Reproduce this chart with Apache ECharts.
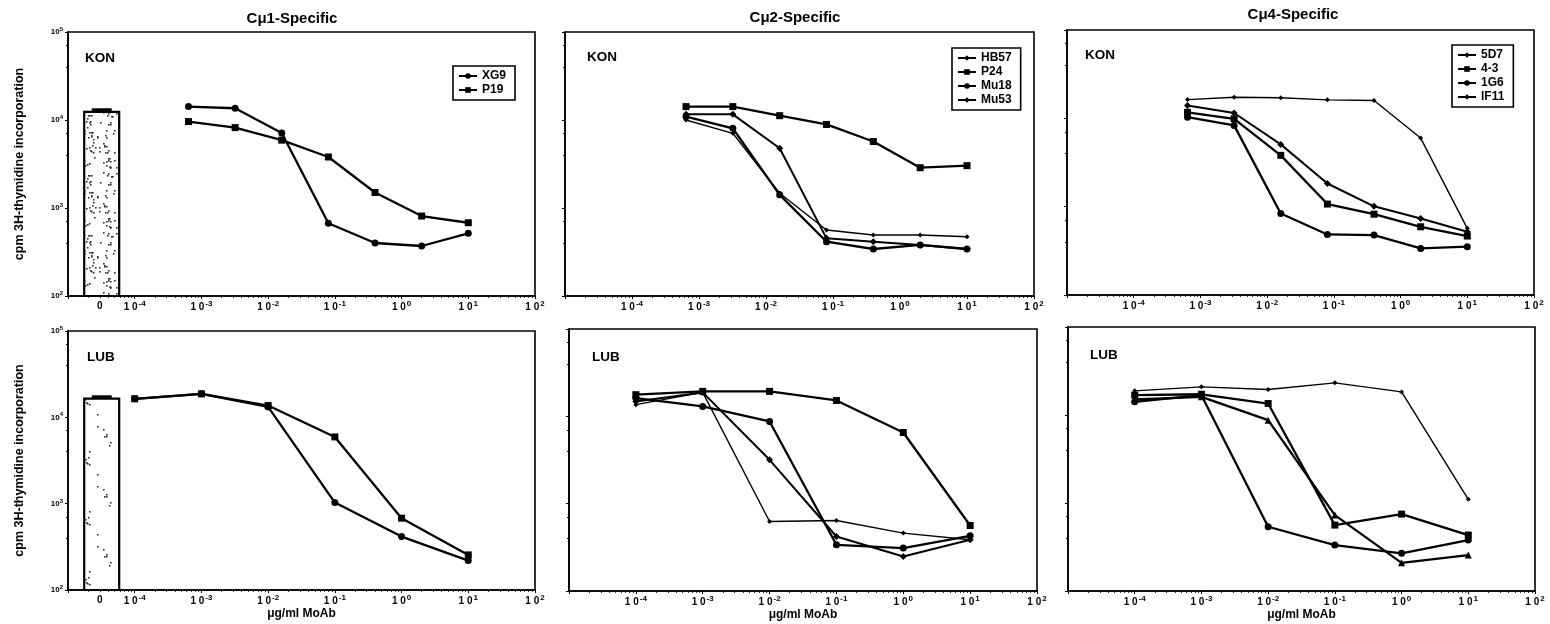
<!DOCTYPE html>
<html><head><meta charset="utf-8">
<script src="https://cdn.jsdelivr.net/npm/echarts@6.0.0/dist/echarts.min.js"></script>
<style>html,body{margin:0;padding:0;background:#fff}#c{width:1550px;height:624px}</style>
</head><body><div id="c"></div>
<script>
// ---------------- data ----------------
const panelTitles = ['Cμ1-Specific', 'Cμ2-Specific', 'Cμ4-Specific'];
const cellLines = ['KON', 'LUB'];
const doseKON = [0.00064, 0.0032, 0.016, 0.08, 0.4, 2, 10];
const doseLUB = [0.0001, 0.001, 0.01, 0.1, 1, 10];
const controlLabel = '0';
const controlDose = 3.2e-5;          // where the "0" (no antibody) bar sits
const konControl = [12400, 13600];   // [mean, mean+error]
const lubControl = [16500, 18000];

// Cμ1 panel
const kon_XG9 = [14200, 13600, 7100, 670, 400, 370, 515];
const kon_P19 = [9600, 8200, 5900, 3800, 1500, 810, 680];
const lub_XG9 = [16400, 18700, 13200, 1030, 416, 219];
const lub_P19 = [16400, 18700, 13700, 5930, 679, 255];
// Cμ2 panel
const kon_HB57 = [11600, 11600, 4770, 452, 414, 380, 342];
const kon_P24  = [14200, 14200, 11200, 8900, 5700, 2870, 3030];
const kon_Mu18 = [10900, 8050, 1410, 414, 342, 380, 342];
const kon_Mu53 = [10000, 7060, 1470, 562, 493, 493, 472];
const lub_HB57 = [14800, 18800, 3180, 421, 248, 386];
const lub_P24  = [17700, 19300, 19300, 15200, 6530, 562];
const lub_Mu18 = [16200, 13000, 8740, 338, 310, 429];
const lub_Mu53 = [13600, 18800, 625, 641, 460, 386];
// Cμ4 panel
const kon_5D7  = [14000, 11500, 5070, 1830, 1010, 736, 520];
const kon_4_3  = [11700, 9880, 3810, 1070, 822, 592, 465];
const kon_1G6  = [10300, 8320, 837, 485, 477, 337, 352];
const kon_IF11 = [16300, 17300, 17100, 16200, 15900, 5980, 568];
const lub_5D7  = [16800, 17200, 13500, 561, 748, 432];
const lub_4_3  = [15000, 16100, 8730, 729, 209, 256];
const lub_1G6  = [14100, 16800, 537, 333, 268, 379];
const lub_IF11 = [18800, 20900, 19500, 23200, 18300, 1100];

const legend1 = ['XG9', 'P19'];
const legend2 = ['HB57', 'P24', 'Mu18', 'Mu53'];
const legend4 = ['5D7', '4-3', '1G6', 'IF11'];

const xMin = 1e-5, xMax = 1e2, yMin = 1e2, yMax = 1e5;
const yAxisName = 'cpm 3H-thymidine incorporation';
const xAxisName = 'μg/ml MoAb';

// ---------------- layout / style ----------------
const FONT = 'Liberation Sans, Arial, sans-serif';
const grids = [
  {left: 68,   top: 32,  width: 467, height: 264},
  {left: 565,  top: 32,  width: 469, height: 264},
  {left: 1067, top: 30,  width: 467, height: 265},
  {left: 68,   top: 331, width: 467, height: 259},
  {left: 569,  top: 329, width: 468, height: 262},
  {left: 1068, top: 327, width: 467, height: 264}
];

function expo(v) { return Math.round(Math.log10(v)); }

const xAxes = grids.map((g, i) => ({
  type: 'log', logBase: 10, gridIndex: i, min: xMin, max: xMax,
  name: i >= 3 ? xAxisName : '', nameLocation: 'middle', nameGap: 18,
  nameTextStyle: {fontFamily: FONT, fontWeight: 'bold', fontSize: 12, color: '#000'},
  axisLine: {show: true, lineStyle: {color: '#000', width: 1.6}},
  axisTick: {show: true, length: 3, lineStyle: {color: '#000', width: 1}},
  minorTick: {show: true, splitNumber: 9, length: 2, lineStyle: {color: '#000', width: 0.8}},
  splitLine: {show: false}, minorSplitLine: {show: false},
  axisLabel: {
    margin: 4, color: '#000',
    formatter: v => {
      const e = expo(v);
      if (e <= -5) return '';
      return '{b|1 0}{s|' + (e < 0 ? '-' : '') + Math.abs(e) + '}';
    },
    rich: {
      b: {fontFamily: FONT, fontWeight: 'bold', fontSize: 10, color: '#000'},
      s: {fontFamily: FONT, fontWeight: 'bold', fontSize: 8, color: '#000', padding: [0, 0, 6, 1]}
    }
  }
}));
const yAxes = grids.map((g, i) => ({
  type: 'log', logBase: 10, gridIndex: i, min: yMin, max: yMax,
  name: (i === 0 || i === 3) ? yAxisName : '', nameLocation: 'middle', nameGap: 42,
  nameTextStyle: {fontFamily: FONT, fontWeight: 'bold', fontSize: 12.5, color: '#000'},
  axisLine: {show: true, lineStyle: {color: '#000', width: 1.6}},
  axisTick: {show: true, length: 3, lineStyle: {color: '#000', width: 1}},
  minorTick: {show: true, splitNumber: 3, length: 2, lineStyle: {color: '#000', width: 1}},
  splitLine: {show: false}, minorSplitLine: {show: false},
  axisLabel: {
    show: (i === 0 || i === 3), margin: 5, color: '#000',
    formatter: v => '{b|10}{s|' + expo(v) + '}',
    rich: {
      b: {fontFamily: FONT, fontWeight: 'bold', fontSize: 8, color: '#000'},
      s: {fontFamily: FONT, fontWeight: 'bold', fontSize: 6, color: '#000', padding: [0, 0, 5, 0]}
    }
  }
}));

function dotCanvas(n, seed) {
  const c = document.createElement('canvas');
  c.width = 34; c.height = 60;
  const g = c.getContext('2d');
  g.fillStyle = '#fff'; g.fillRect(0, 0, c.width, c.height);
  g.fillStyle = '#333';
  for (let i = 0; i < n; i++) {
    const x = (i * 13 + seed * 7 + (i * i) % 11) % 32 + 1;
    const y = (i * 23 + seed * 3 + (i * i * 3) % 17) % 58 + 1;
    g.fillRect(x, y, 1.6, 1.6);
  }
  return c;
}
const patKON = {image: dotCanvas(70, 1), repeat: 'repeat'};
const patLUB = {image: dotCanvas(14, 5), repeat: 'repeat'};

function controlBar(gi, ctrl, pat) {
  return {
    type: 'custom', xAxisIndex: gi, yAxisIndex: gi, silent: true, z: 3,
    data: [[controlDose, ctrl[0], ctrl[1]]],
    renderItem: (params, api) => {
      const x = api.value(0);
      const top = api.coord([x, api.value(1)]);
      const cap = api.coord([x, api.value(2)]);
      const base = api.coord([x, yMin]);
      const w = 35;
      return {type: 'group', children: [
        {type: 'rect', shape: {x: top[0] - w / 2, y: top[1], width: w, height: base[1] - top[1]},
         style: {fill: pat, stroke: '#000', lineWidth: 2.2}},
        {type: 'rect', shape: {x: top[0] - 10, y: cap[1], width: 20, height: top[1] - cap[1]},
         style: {fill: '#000'}},
        {type: 'text', style: {text: controlLabel, x: top[0] - 2, y: base[1] + 5, align: 'center', verticalAlign: 'top',
          fontFamily: FONT, fontWeight: 'bold', fontSize: 10, fill: '#000'}}
      ]};
    }
  };
}

function line(name, gi, xs, ys, symbol, size, lw) {
  return {
    type: 'line', name, xAxisIndex: gi, yAxisIndex: gi,
    data: xs.map((x, k) => [x, ys[k]]),
    symbol, symbolSize: size, showSymbol: true,
    lineStyle: {color: '#000', width: lw},
    itemStyle: {color: '#000', borderWidth: 0},
    emphasis: {disabled: true}, z: 4
  };
}

const series = [
  controlBar(0, konControl, patKON),
  controlBar(3, lubControl, patLUB),
  line('XG9', 0, doseKON, kon_XG9, 'circle', 7, 2.3),
  line('P19', 0, doseKON, kon_P19, 'rect', 7, 2.3),
  line('XG9', 3, doseLUB, lub_XG9, 'circle', 7, 2.3),
  line('P19', 3, doseLUB, lub_P19, 'rect', 7, 2.3),

  line('HB57', 1, doseKON, kon_HB57, 'diamond', 7, 2),
  line('P24', 1, doseKON, kon_P24, 'rect', 7, 2.3),
  line('Mu18', 1, doseKON, kon_Mu18, 'circle', 7, 2.3),
  line('Mu53', 1, doseKON, kon_Mu53, 'diamond', 5, 1.4),
  line('HB57', 4, doseLUB, lub_HB57, 'diamond', 7, 2),
  line('P24', 4, doseLUB, lub_P24, 'rect', 7, 2.3),
  line('Mu18', 4, doseLUB, lub_Mu18, 'circle', 7, 2.3),
  line('Mu53', 4, doseLUB, lub_Mu53, 'diamond', 5, 1.4),

  line('5D7', 2, doseKON, kon_5D7, 'diamond', 7, 2),
  line('4-3', 2, doseKON, kon_4_3, 'rect', 7, 2.3),
  line('1G6', 2, doseKON, kon_1G6, 'circle', 7, 2.3),
  line('IF11', 2, doseKON, kon_IF11, 'diamond', 5, 1.4),
  line('5D7', 5, doseLUB, lub_5D7, 'rect', 7, 2.3),
  line('4-3', 5, doseLUB, lub_4_3, 'triangle', 7, 2.3),
  line('1G6', 5, doseLUB, lub_1G6, 'circle', 7, 2.3),
  line('IF11', 5, doseLUB, lub_IF11, 'diamond', 5, 1.4)
];

function legend(data, left, top) {
  return {
    data, left, top, orient: 'vertical', selectedMode: false,
    borderColor: '#000', borderWidth: 1.6, padding: [3, 9, 3, 5],
    itemGap: 0, itemWidth: 18, itemHeight: 7,
    textStyle: {fontFamily: FONT, fontWeight: 'bold', fontSize: 12, color: '#000', lineHeight: 14}
  };
}

const texts = [];
const titleCenters = [[292, 19], [795, 18], [1293, 15]];
panelTitles.forEach((t, k) => texts.push({type: 'text', style: {text: t, x: titleCenters[k][0], y: titleCenters[k][1],
  align: 'center', verticalAlign: 'middle', fontFamily: FONT, fontWeight: 'bold', fontSize: 15, fill: '#000'}}));
const tagPos = [[85, 58, 0], [587, 57, 0], [1085, 55, 0], [87, 357, 1], [592, 357, 1], [1090, 355, 1]];
tagPos.forEach(p => texts.push({type: 'text', style: {text: cellLines[p[2]], x: p[0], y: p[1],
  align: 'left', verticalAlign: 'middle', fontFamily: FONT, fontWeight: 'bold', fontSize: 13.5, fill: '#000'}}));

const chart = echarts.init(document.getElementById('c'), null, {renderer: 'canvas'});
chart.setOption({
  animation: false,
  backgroundColor: '#fff',
  grid: grids.map(g => Object.assign({show: true, borderColor: '#000', borderWidth: 1.6, backgroundColor: 'transparent', containLabel: false}, g)),
  xAxis: xAxes,
  yAxis: yAxes,
  legend: [legend(legend1, 453, 66), legend(legend2, 952, 48), legend(legend4, 1452, 45)],
  graphic: texts,
  series
});
</script>
</body></html>
